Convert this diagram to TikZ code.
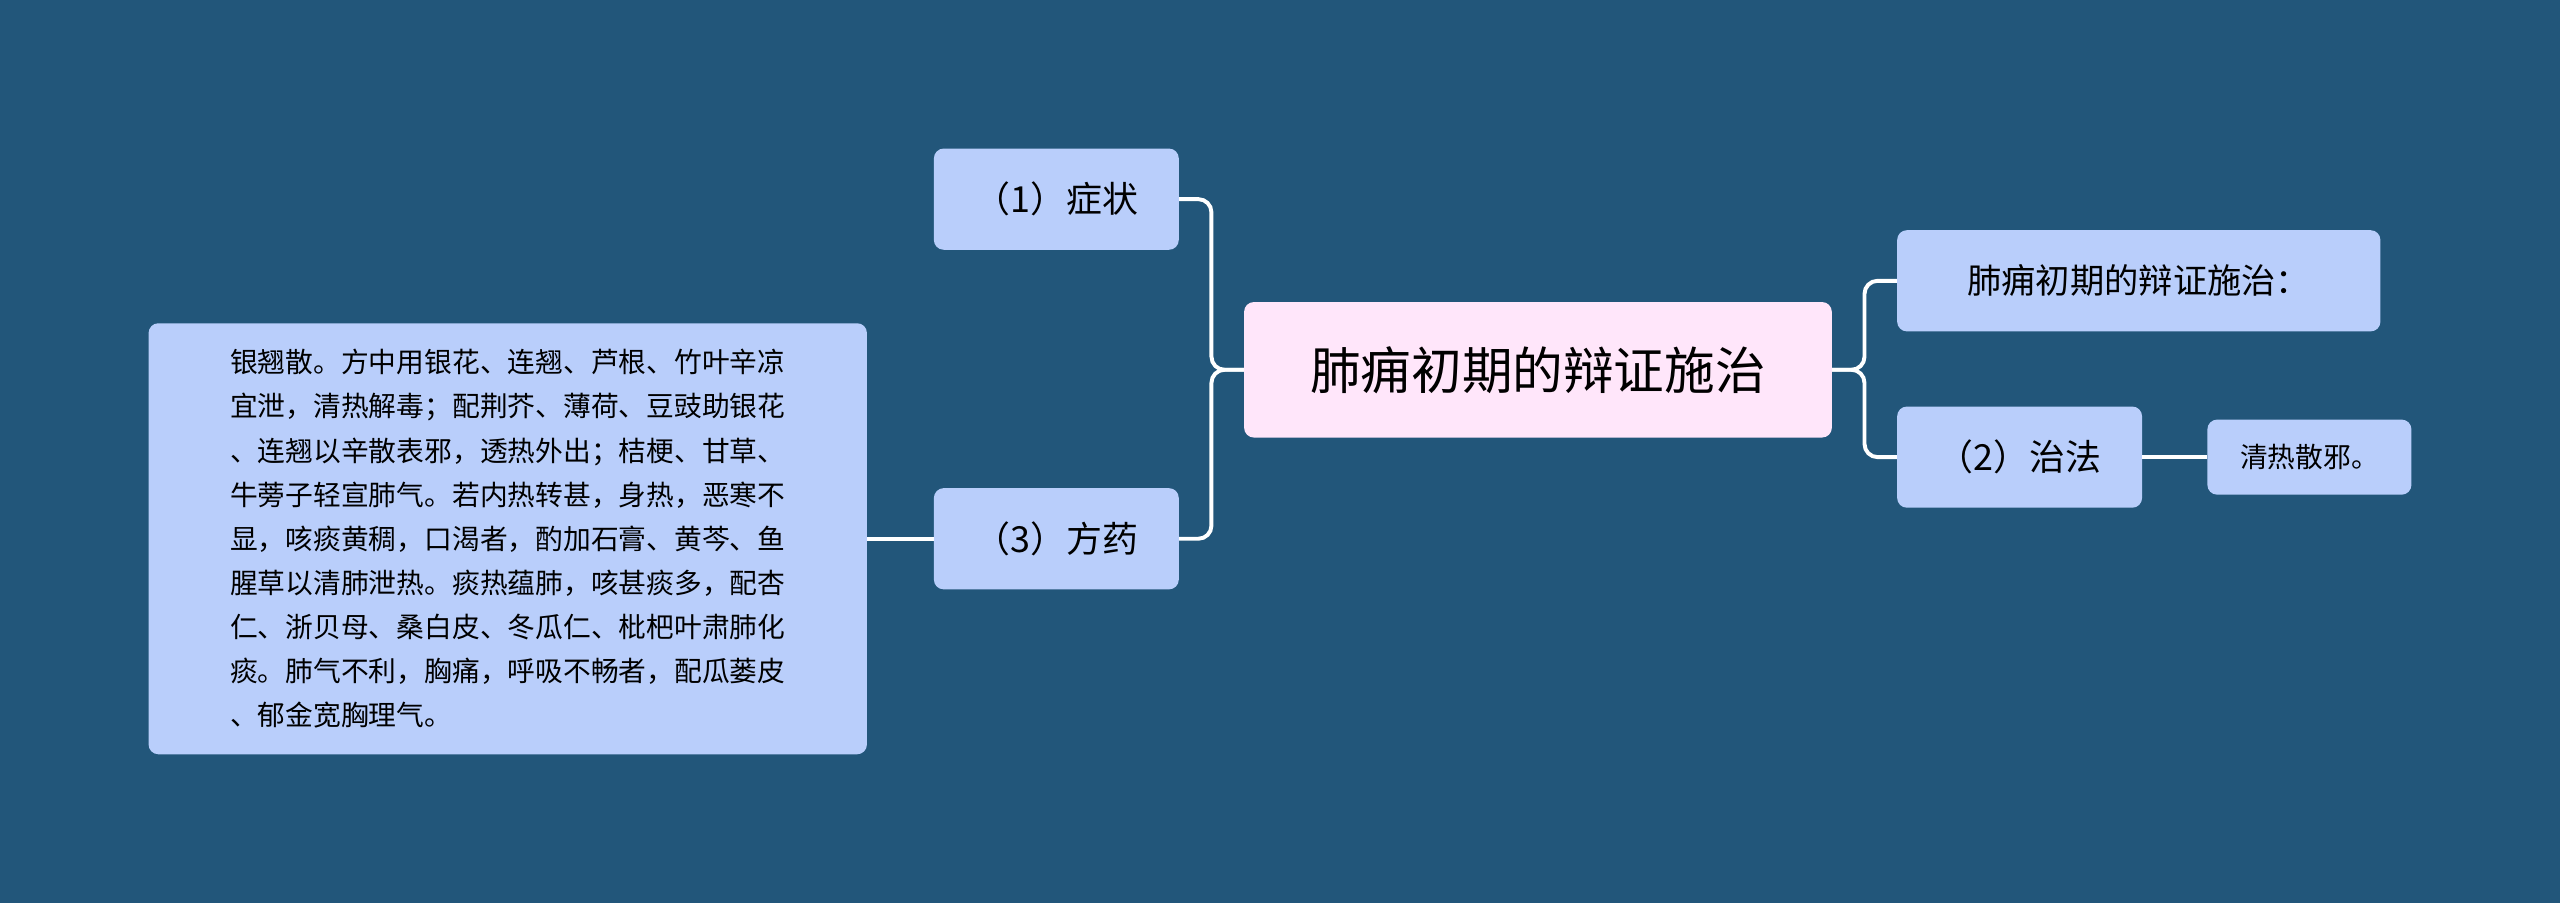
\documentclass[tikz,border=0pt]{standalone}
\usepackage{fontspec}
\setmainfont{Noto Sans CJK SC}
\begin{document}
\begin{tikzpicture}[x=1pt,y=1pt,
  box/.style={draw=none,fill=nodeblue,rounded corners=6pt,inner sep=0pt,text=black},
  conn/.style={draw=white,line width=2.4pt,rounded corners=8pt}]
\definecolor{bg}{HTML}{22567A}
\definecolor{nodeblue}{HTML}{B9CEFB}
\definecolor{pinkc}{HTML}{FFE6FA}
\fill[bg] (0,0) rectangle (1568,553);
\useasboundingbox (0,0) rectangle (1568,553);
% center
\node[box,fill=pinkc,minimum width=360pt,minimum height=83pt,font=\fontsize{31}{36}\selectfont] (c) at (942,326.5) {肺痈初期的辩证施治};
\node[box,minimum width=150pt,minimum height=62pt,font=\fontsize{22}{26}\selectfont] (s1) at (647,431) {（1）症状};
\node[box,minimum width=150pt,minimum height=62pt,font=\fontsize{22}{26}\selectfont] (s3) at (647,223) {（3）方药};
\node[box,minimum width=440pt,minimum height=264pt,font=\fontsize{17}{27}\selectfont,align=left] (t) at (311,223) {银翘散。方中用银花、连翘、芦根、竹叶辛凉\\宜泄，清热解毒；配荆芥、薄荷、豆豉助银花\\、连翘以辛散表邪，透热外出；桔梗、甘草、\\牛蒡子轻宣肺气。若内热转甚，身热，恶寒不\\显，咳痰黄稠，口渴者，酌加石膏、黄芩、鱼\\腥草以清肺泄热。痰热蕴肺，咳甚痰多，配杏\\仁、浙贝母、桑白皮、冬瓜仁、枇杷叶肃肺化\\痰。肺气不利，胸痛，呼吸不畅者，配瓜蒌皮\\、郁金宽胸理气。};
\node[box,minimum width=296pt,minimum height=62pt,font=\fontsize{21}{25}\selectfont] (r1) at (1310,381) {肺痈初期的辩证施治：};
\node[box,minimum width=150pt,minimum height=62pt,font=\fontsize{22}{26}\selectfont] (s2) at (1237,273) {（2）治法};
\node[box,minimum width=125pt,minimum height=46pt,font=\fontsize{17}{20}\selectfont] (z) at (1414.5,273) {清热散邪。};
% connectors
\draw[conn] (c.west) -- (742,326.5) |- (s1.east);
\draw[conn] (c.west) -- (742,326.5) |- (s3.east);
\draw[conn] (t.east) -- (s3.west);
\draw[conn] (c.east) -- (1142,326.5) |- (r1.west);
\draw[conn] (c.east) -- (1142,326.5) |- (s2.west);
\draw[conn] (s2.east) -- (z.west);
\end{tikzpicture}
\end{document}
